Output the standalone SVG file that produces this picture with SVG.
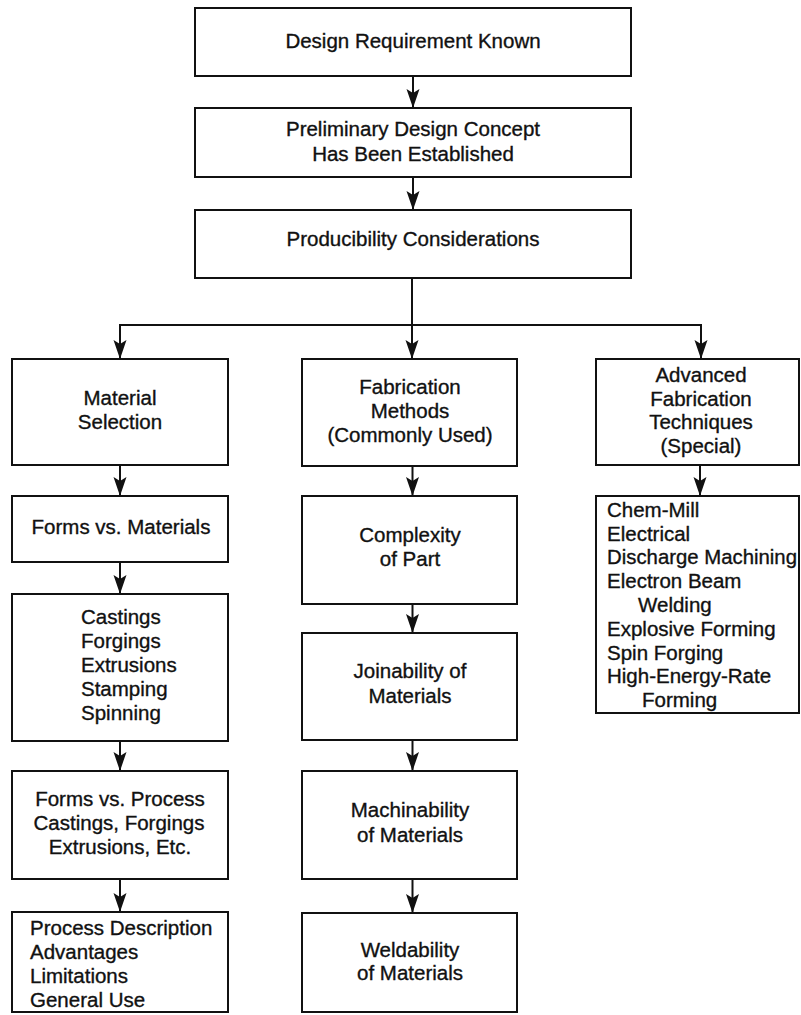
<svg xmlns="http://www.w3.org/2000/svg" width="801" height="1015" viewBox="0 0 801 1015">
<defs>
<style>
.box{fill:#fff;stroke:#111;stroke-width:2}
.t{font-family:"Liberation Sans",Arial,Helvetica,sans-serif;font-size:20.5px;fill:#111;stroke:#111;stroke-width:0.35}
.c{text-anchor:middle}
.conn{fill:none;stroke:#111;stroke-width:2}
</style>
<marker id="ah" markerUnits="userSpaceOnUse" markerWidth="20" markerHeight="14" refX="19" refY="6.5" orient="auto">
<path d="M0,0 L19,6.5 L0,13 L4,6.5 z" fill="#111"/>
</marker>
</defs>
<rect width="801" height="1015" fill="#fff"/>
<g id="connectors">
<path class="conn" d="M413,76 V108" marker-end="url(#ah)"/>
<path class="conn" d="M413,177 V210" marker-end="url(#ah)"/>
<path class="conn" d="M412,278 V359" marker-end="url(#ah)"/>
<path class="conn" d="M120,325 H701"/>
<path class="conn" d="M120,324 V359" marker-end="url(#ah)"/>
<path class="conn" d="M701,324 V359" marker-end="url(#ah)"/>
<path class="conn" d="M120,465 V496" marker-end="url(#ah)"/>
<path class="conn" d="M120,562 V594" marker-end="url(#ah)"/>
<path class="conn" d="M120,741 V771" marker-end="url(#ah)"/>
<path class="conn" d="M120,879 V912" marker-end="url(#ah)"/>
<path class="conn" d="M412.5,466 V496" marker-end="url(#ah)"/>
<path class="conn" d="M412.5,604 V633" marker-end="url(#ah)"/>
<path class="conn" d="M412.5,740 V771" marker-end="url(#ah)"/>
<path class="conn" d="M412.5,879 V913" marker-end="url(#ah)"/>
<path class="conn" d="M700,465 V496" marker-end="url(#ah)"/>
</g>
<g id="n1"><rect class="box" x="195" y="8" width="436" height="68"/><text class="t c" x="413" y="48">Design Requirement Known</text></g>
<g id="n2"><rect class="box" x="195" y="108" width="436" height="69"/><text class="t c" x="413" y="136">Preliminary Design Concept</text><text class="t c" x="413" y="161">Has Been Established</text></g>
<g id="n3"><rect class="box" x="195" y="210" width="436" height="68"/><text class="t c" x="413" y="246">Producibility Considerations</text></g>
<g id="material-selection"><rect class="box" x="12" y="359" width="216" height="106"/><text class="t c" x="120" y="405">Material</text><text class="t c" x="120" y="429">Selection</text></g>
<g id="fabrication-methods"><rect class="box" x="302" y="359" width="215" height="107"/><text class="t c" x="410" y="394">Fabrication</text><text class="t c" x="410" y="418">Methods</text><text class="t c" x="410" y="442">(Commonly Used)</text></g>
<g id="advanced-fabrication"><rect class="box" x="596" y="359" width="203" height="106"/><text class="t c" x="701" y="382">Advanced</text><text class="t c" x="701" y="406">Fabrication</text><text class="t c" x="701" y="429">Techniques</text><text class="t c" x="701" y="453">(Special)</text></g>
<g id="forms-vs-materials"><rect class="box" x="12" y="496" width="216" height="66"/><text class="t c" x="121" y="534">Forms vs. Materials</text></g>
<g id="castings"><rect class="box" x="12" y="594" width="216" height="147"/><text class="t" x="81" y="624">Castings</text><text class="t" x="81" y="648">Forgings</text><text class="t" x="81" y="672">Extrusions</text><text class="t" x="81" y="696">Stamping</text><text class="t" x="81" y="720">Spinning</text></g>
<g id="forms-vs-process"><rect class="box" x="12" y="771" width="216" height="108"/><text class="t c" x="120" y="806">Forms vs. Process</text><text class="t c" x="119" y="830">Castings, Forgings</text><text class="t c" x="120" y="854">Extrusions, Etc.</text></g>
<g id="process-description"><rect class="box" x="12" y="912" width="216" height="100"/><text class="t" x="30" y="935">Process Description</text><text class="t" x="30" y="959">Advantages</text><text class="t" x="30" y="983">Limitations</text><text class="t" x="30" y="1007">General Use</text></g>
<g id="complexity"><rect class="box" x="302" y="496" width="215" height="108"/><text class="t c" x="410" y="542">Complexity</text><text class="t c" x="410" y="566">of Part</text></g>
<g id="joinability"><rect class="box" x="302" y="633" width="215" height="107"/><text class="t c" x="410" y="678">Joinability of</text><text class="t c" x="410" y="703">Materials</text></g>
<g id="machinability"><rect class="box" x="302" y="771" width="215" height="108"/><text class="t c" x="410" y="817">Machinability</text><text class="t c" x="410" y="842">of Materials</text></g>
<g id="weldability"><rect class="box" x="302" y="913" width="215" height="99"/><text class="t c" x="410" y="957">Weldability</text><text class="t c" x="410" y="980">of Materials</text></g>
<g id="special-techniques"><rect class="box" x="596" y="496" width="203" height="217"/>
<text class="t" x="607" y="517">Chem-Mill</text>
<text class="t" x="607" y="541">Electrical</text>
<text class="t" x="607" y="564" textLength="190" lengthAdjust="spacingAndGlyphs">Discharge Machining</text>
<text class="t" x="607" y="588">Electron Beam</text>
<text class="t" x="638" y="612">Welding</text>
<text class="t" x="607" y="636">Explosive Forming</text>
<text class="t" x="607" y="660">Spin Forging</text>
<text class="t" x="607" y="683">High-Energy-Rate</text>
<text class="t" x="642" y="707">Forming</text>
</g>
</svg>
